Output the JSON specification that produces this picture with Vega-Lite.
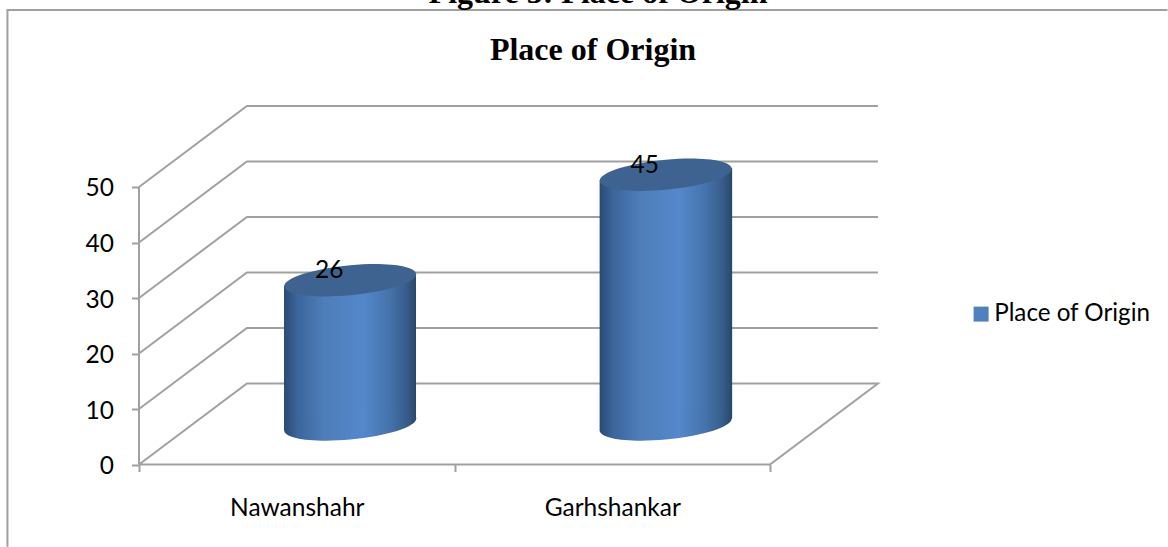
{
"$schema":"https://vega.github.io/schema/vega-lite/v6.json",
"width":1168,"height":547,"padding":0,"autosize":{"type":"none"},
"background":"white",
"config":{"view":{"stroke":null},"font":"Lato"},
"title":{"text":"Place of Origin","font":"Liberation Serif","fontSize":32,"fontWeight":"bold","color":"#000000","anchor":"middle","dx":9,"dy":55,"offset":-60,"baseline":"alphabetic"},
"datasets":{
"bars":[{"place":"Nawanshahr","pos":0.5,"value":26},{"place":"Garhshankar","pos":1.5,"value":45}],
"bodies":[
{"place":"Nawanshahr","x":0.4596,"top":32.23,"base":6.13},{"place":"Nawanshahr","x":0.878,"top":34.37,"base":8.27},
{"place":"Garhshankar","x":1.46,"top":51.2,"base":6.13},{"place":"Garhshankar","x":1.88,"top":53.4,"base":8.27}
],
"lines":[
{"g":"frame","i":0,"x":-0.417,"y":-14.8},{"g":"frame","i":1,"x":-0.417,"y":81.9},{"g":"frame","i":2,"x":3.26,"y":81.9},
{"g":"v0","i":0,"x":0,"y":0},{"g":"v0","i":1,"x":0.342,"y":14.6},{"g":"v0","i":2,"x":2.342,"y":14.6},{"g":"v0","i":3,"x":2,"y":0},{"g":"v0","i":4,"x":0,"y":0},
{"g":"v10","i":0,"x":0,"y":10},{"g":"v10","i":1,"x":0.342,"y":24.6},{"g":"v10","i":2,"x":2.342,"y":24.6},
{"g":"v20","i":0,"x":0,"y":20},{"g":"v20","i":1,"x":0.342,"y":34.6},{"g":"v20","i":2,"x":2.342,"y":34.6},
{"g":"v30","i":0,"x":0,"y":30},{"g":"v30","i":1,"x":0.342,"y":44.6},{"g":"v30","i":2,"x":2.342,"y":44.6},
{"g":"v40","i":0,"x":0,"y":40},{"g":"v40","i":1,"x":0.342,"y":54.6},{"g":"v40","i":2,"x":2.342,"y":54.6},
{"g":"v50","i":0,"x":0,"y":50},{"g":"v50","i":1,"x":0.342,"y":64.6},{"g":"v50","i":2,"x":2.342,"y":64.6},
{"g":"axis","i":0,"x":0,"y":0},{"g":"axis","i":1,"x":0,"y":50}
],
"caption":[{"x":1.455,"y":83.2,"label":"Figure 3: Place of Origin"}]
},
"layer":[
{"data":{"name":"lines"},"mark":{"type":"line","color":"#a0a0a0","strokeWidth":2,"interpolate":"linear"},
 "encoding":{
 "x":{"field":"x","type":"quantitative","scale":{"domain":[-0.4406,3.2615],"nice":false,"zero":false,"padding":0},
  "axis":{"values":[0,0.5,1,1.5,2],"title":null,"grid":false,"domain":false,"offset":-82.5,"tickSize":7,"tickColor":"#a0a0a0","tickWidth":2,"tickOpacity":{"condition":{"test":"datum.value % 1 !== 0","value":0},"value":1},"labelExpr":"datum.value == 0.5 ? 'Nawanshahr' : datum.value == 1.5 ? 'Garhshankar' : ''","labelFont":"Lato","labelFontSize":24.5,"labelColor":"#000000","labelPadding":25,"labelFlush":false,"labelOverlap":false}},
 "y":{"field":"y","type":"quantitative","scale":{"domain":[-14.86,83.69],"nice":false,"zero":false,"padding":0},
  "axis":{"values":[0,10,20,30,40,50],"title":null,"grid":false,"domain":false,"offset":-138.5,"tickSize":7,"tickColor":"#a0a0a0","tickWidth":2,"labelFont":"Lato","labelFontSize":24.5,"labelColor":"#000000","labelPadding":18,"labelOffset":2,"labelFlush":false,"labelOverlap":false}},
 "detail":{"field":"g"},"order":{"field":"i"}}},
{"data":{"name":"bodies"},"mark":{"type":"area","opacity":1,"interpolate":"linear",
 "color":{"gradient":"linear","x1":0,"x2":1,"y1":0,"y2":0,"stops":[{"offset":0,"color":"#2b4a72"},{"offset":0.1,"color":"#3b659b"},{"offset":0.3,"color":"#4e7db8"},{"offset":0.6,"color":"#5488cb"},{"offset":0.8,"color":"#4573ab"},{"offset":0.93,"color":"#375c8a"},{"offset":1,"color":"#2a4768"}]}},
 "encoding":{"x":{"field":"x","type":"quantitative"},"y":{"field":"top","type":"quantitative"},"y2":{"field":"base"},"detail":{"field":"place"}}},
{"data":{"name":"bars"},"mark":{"type":"point","filled":true,"opacity":1,"size":17424,"xOffset":53.5,"yOffset":-40,
 "shape":"M1,-0.09C1,0.036,0.552,0.178,0,0.228C-0.552,0.278,-1,0.216,-1,0.09C-1,-0.036,-0.552,-0.178,0,-0.228C0.552,-0.278,1,-0.216,1,-0.09Z",
 "fill":{"gradient":"linear","x1":0,"x2":1,"y1":0,"y2":0,"stops":[{"offset":0,"color":"#2b4a72"},{"offset":0.1,"color":"#3b659b"},{"offset":0.3,"color":"#4e7db8"},{"offset":0.6,"color":"#5488cb"},{"offset":0.8,"color":"#4573ab"},{"offset":0.93,"color":"#375c8a"},{"offset":1,"color":"#2a4768"}]},"stroke":null},
 "encoding":{"x":{"field":"pos","type":"quantitative"},"y":{"datum":0}}},
{"data":{"name":"bars"},"mark":{"type":"point","filled":true,"opacity":1,"size":17424,"xOffset":53.5,"yOffset":-40,"color":"#3f6390",
 "shape":"M1,-0.09C1,0.036,0.552,0.178,0,0.228C-0.552,0.278,-1,0.216,-1,0.09C-1,-0.036,-0.552,-0.178,0,-0.228C0.552,-0.278,1,-0.216,1,-0.09Z"},
 "encoding":{"x":{"field":"pos","type":"quantitative"},"y":{"field":"value","type":"quantitative"}}},
{"data":{"name":"bars"},"mark":{"type":"text","font":"Lato","fontSize":24.5,"color":"#000000","xOffset":32.5,"yOffset":-49,"baseline":"middle"},
 "encoding":{"x":{"field":"pos","type":"quantitative"},"y":{"field":"value","type":"quantitative"},"text":{"field":"value","type":"quantitative"}}},
{"data":{"name":"caption"},"mark":{"type":"text","font":"Liberation Serif","fontSize":32,"fontWeight":"bold","color":"#000000","baseline":"alphabetic"},
 "encoding":{"x":{"field":"x","type":"quantitative"},"y":{"field":"y","type":"quantitative"},"text":{"field":"label"}}},
{"data":{"name":"bars"},"transform":[{"filter":"false"}],"mark":{"type":"square"},
 "encoding":{"x":{"field":"pos","type":"quantitative"},"y":{"field":"value","type":"quantitative"},
 "fill":{"field":"series","type":"nominal","scale":{"domain":["Place of Origin"],"range":["#4f81bd"]},
  "legend":{"title":null,"orient":"none","legendX":969,"legendY":302,"symbolType":"square","symbolSize":225,"symbolOpacity":1,"symbolStrokeWidth":0,"labelFont":"Lato","labelFontSize":24.2,"labelColor":"#000000","labelOffset":1,"padding":0,"rowPadding":0}}}}
]
}
